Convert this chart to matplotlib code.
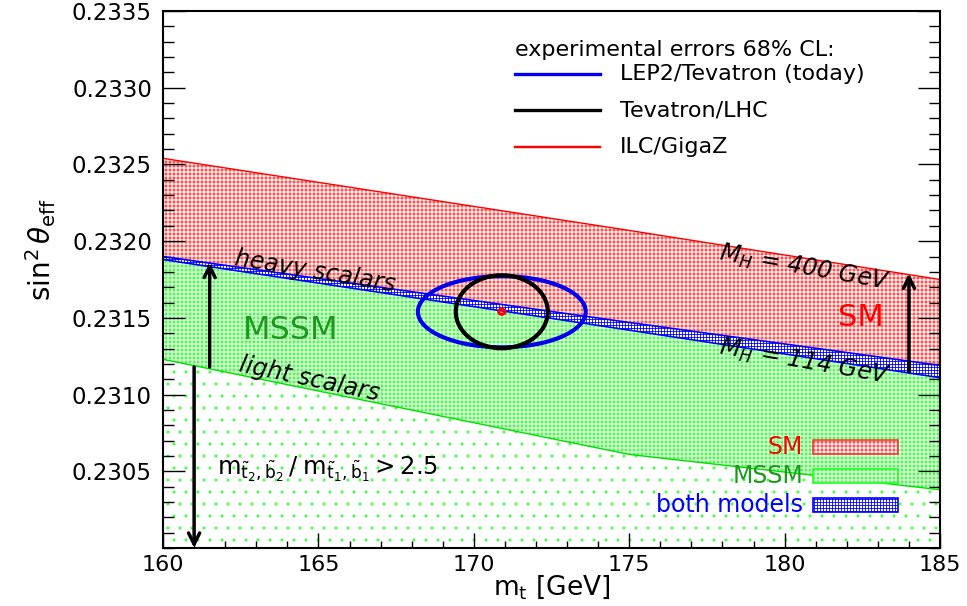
import numpy as np
import matplotlib.pyplot as plt
from matplotlib.patches import Ellipse, Rectangle
from matplotlib.ticker import MultipleLocator, FixedLocator

# drawn at 72 dpi so that the hatch spacing falls on whole pixels; k converts sizes
k = 100 / 72

plt.rcParams['font.family'] = 'DejaVu Sans'
plt.rcParams['mathtext.fontset'] = 'dejavusans'
plt.rcParams['hatch.linewidth'] = 0.6 * k

# band edges (sin^2 theta_eff) vs top mass
mt = [160, 175, 185]
sm_400 = [0.23254, 0.23207, 0.23175]      # SM, M_H = 400 GeV
sm_114 = [0.23188, 0.23142, 0.23111]      # SM, M_H = 114 GeV
mssm_heavy = [0.23190, 0.23147, 0.23119]  # MSSM, heavy scalars
mssm_light = [0.23123, 0.23061, 0.23038]  # MSSM, light scalars

# experimental error ellipses (68% CL)
ell_labels = ['LEP2/Tevatron (today)', 'Tevatron/LHC', 'ILC/GigaZ']
ell_colors = ['#0000ee', 'black', '#ff0000']
ell_mt = [170.9, 170.9, 170.9]
ell_sw = [0.23154, 0.23154, 0.23154]
ell_dmt = [2.70, 1.48, 0.10]
ell_dsw = [0.000232, 0.000238, 0.000017]
ell_lw = [3.0, 3.0, 2.2]

# arrows: x, start, end
arrow_mt = [161.5, 161.0, 184.0]
arrow_start = [0.23118, 0.23118, 0.23115]
arrow_end = [0.23186, 0.23000, 0.23179]

xticks = [160, 165, 170, 175, 180, 185]
yticks = [0.2305, 0.2310, 0.2315, 0.2320, 0.2325, 0.2330, 0.2335]

red_h = '#ff3333'
green_h = '#22ff22'
blue_h = '#0000ff'
dark_green = '#1a9a1a'

fig = plt.figure(figsize=(967 / 72, 606 / 72), dpi=72)
ax = fig.add_axes([0.1686, 0.0957, 0.8035, 0.8861])

# bands
with plt.rc_context({'hatch.linewidth': 0.4 * k}):
    ax.fill_between(mt, 0.2300, mssm_light, facecolor='white', edgecolor='#44ff44', hatch='.',
                    linewidth=0)
ax.fill_between(mt, mssm_light, mssm_heavy, facecolor='white', edgecolor=green_h, hatch='+++', linewidth=0)
ax.fill_between(mt, sm_114, sm_400, facecolor='white', edgecolor=red_h, hatch='+++', linewidth=0)
ax.fill_between(mt, sm_114, mssm_heavy, facecolor='white', edgecolor=blue_h, hatch='++++', linewidth=0)
ax.plot(mt, sm_400, color='red', lw=1 * k)
ax.plot(mt, sm_114, color='blue', lw=1.2 * k)
ax.plot(mt, mssm_heavy, color='blue', lw=1.2 * k)
ax.plot(mt, mssm_light, color='#00dd00', lw=1 * k)

# ellipses
for i in range(3):
    e = Ellipse((ell_mt[i], ell_sw[i]), 2 * ell_dmt[i], 2 * ell_dsw[i], fill=False,
                edgecolor=ell_colors[i], lw=ell_lw[i] * k, zorder=5)
    ax.add_patch(e)

# arrows
for i in range(3):
    ax.annotate('', xy=(arrow_mt[i], arrow_end[i]), xytext=(arrow_mt[i], arrow_start[i]),
                arrowprops=dict(arrowstyle='->', lw=2.5 * k, color='black', mutation_scale=20 * k,
                                shrinkA=0, shrinkB=0), zorder=6)

# labels in the plot
ax.text(164.9, 0.23180, 'heavy scalars', fontsize=17 * k, style='italic', rotation=-9.5,
        ha='center', va='center')
ax.text(164.7, 0.23110, 'light scalars', fontsize=17 * k, style='italic', rotation=-12,
        ha='center', va='center')
ax.text(164.1, 0.23142, 'MSSM', fontsize=23 * k, color=dark_green, ha='center', va='center')
ax.text(182.45, 0.23150, 'SM', fontsize=22 * k, color='red', ha='center', va='center')
ax.text(180.65, 0.231825, r'$M_H$ = 400 GeV', fontsize=17 * k, style='italic', rotation=-10,
        ha='center', va='center')
ax.text(180.65, 0.231212, r'$M_H$ = 114 GeV', fontsize=17 * k, style='italic', rotation=-10,
        ha='center', va='center')
ax.text(161.75, 0.23051,
        r'$\mathregular{m_{\tilde{t}_2,\tilde{b}_2}\,/\;m_{\tilde{t}_1,\tilde{b}_1} > 2.5}$',
        fontsize=17.5 * k, ha='left', va='center')

# top legend (experimental errors)
ax.text(0.4530, 0.9274, 'experimental errors 68% CL:', transform=ax.transAxes, fontsize=16 * k,
        ha='left', va='center')
leg_y = [0.8827, 0.8156, 0.7467]
for i in range(3):
    ax.plot([0.4530, 0.5624], [leg_y[i], leg_y[i]], color=ell_colors[i],
            lw=ell_lw[i] * 0.8 * k, transform=ax.transAxes)
    ax.text(0.5882, leg_y[i], ell_labels[i], transform=ax.transAxes, fontsize=16 * k,
            ha='left', va='center')

# bottom legend (models)
box_labels = ['SM', 'MSSM', 'both models']
box_text_colors = ['red', dark_green, 'blue']
box_hatch_colors = [red_h, green_h, blue_h]
box_hatch = ['+++', '+++', '++++']
box_y = [0.1750, 0.1210, 0.0670]
for i in range(3):
    ax.add_patch(Rectangle((0.8366, box_y[i]), 0.1093, 0.0255, transform=ax.transAxes,
                           facecolor='white', edgecolor=box_hatch_colors[i], hatch=box_hatch[i],
                           lw=1.2 * k, zorder=4))
    ax.text(0.8237, box_y[i] + 0.0128, box_labels[i], transform=ax.transAxes, fontsize=17 * k,
            color=box_text_colors[i], ha='right', va='center')

# axes
ax.set_xlim(160, 185)
ax.set_ylim(0.2300, 0.2335)
ax.xaxis.set_major_locator(FixedLocator(xticks))
ax.xaxis.set_minor_locator(MultipleLocator(1))
ax.yaxis.set_major_locator(FixedLocator(yticks))
ax.yaxis.set_minor_locator(MultipleLocator(0.0001))
ax.set_yticklabels(['%.4f' % v for v in yticks])
ax.xaxis.set_tick_params(which='major', direction='in', length=11 * k, width=1 * k,
                         labelsize=16 * k, pad=5 * k)
ax.xaxis.set_tick_params(which='minor', direction='in', length=5 * k, width=1 * k)
ax.yaxis.set_tick_params(which='major', direction='in', length=16 * k, width=1 * k,
                         labelsize=16.5 * k, pad=8 * k, right=True)
ax.yaxis.set_tick_params(which='minor', direction='in', length=8 * k, width=1 * k, right=True)
for s in ax.spines.values():
    s.set_linewidth(1.5 * k)

ax.set_xlabel(r'm$_\mathregular{t}$ [GeV]', fontsize=19 * k)
ax.xaxis.set_label_coords(0.5, -0.046)
ax.set_ylabel(r'$\sin^2\theta_\mathrm{eff}$', fontsize=20 * k)
ax.yaxis.set_label_coords(-0.135, 0.555)

fig.savefig('out.png', dpi=72)
